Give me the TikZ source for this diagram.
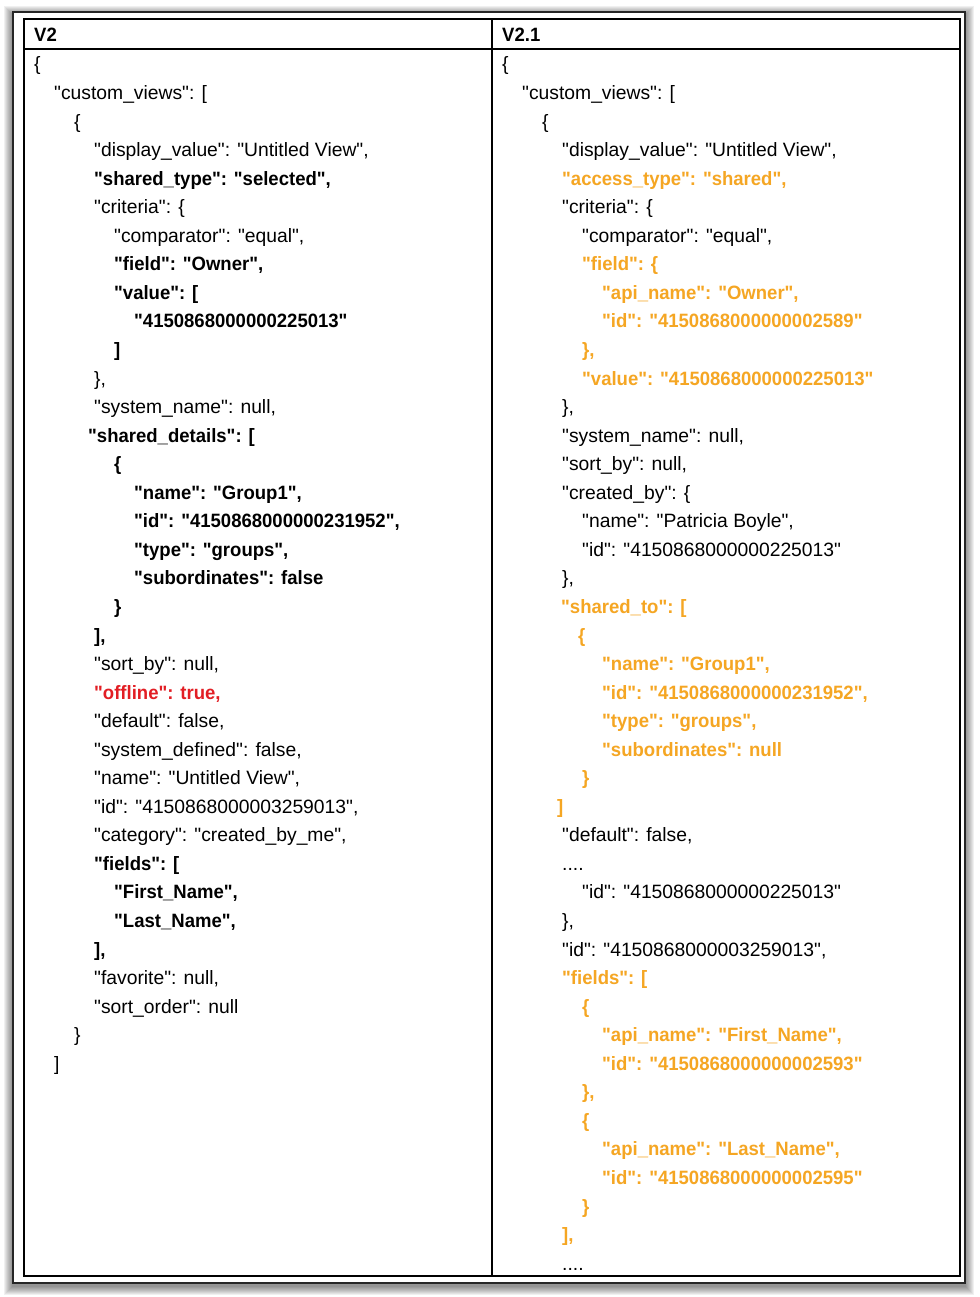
\documentclass[tikz,border=0pt]{standalone}
\usepackage{fontspec}
\setmainfont{Liberation Sans}[Ligatures=TeXOff,BoldFeatures={FakeStretch=0.96}]
\definecolor{addorange}{RGB}{245,166,35}
\definecolor{dropred}{RGB}{226,30,36}
\newcommand*{\codefont}{\fontsize{19.3}{23}\selectfont}
\tikzset{
    line/.style = {anchor=base west,inner sep=0,font=\codefont},
    keep/.style = {line},
    bold/.style = {line,font=\codefont\bfseries},
    added/.style = {bold,text=addorange},
    dropped/.style = {bold,text=dropred},
    frame/.style = {draw=black!85,line width=2.5},
    grid/.style = {draw=black,line width=1.3}
}

\begin{document}
\begin{tikzpicture}[x=1pt,y=-1pt]
        \newcommand*\lsep{28.55}
        \newcommand*\tab{20}
        \useasboundingbox (0,0) rectangle (979,1297);
        % Shadow and frame
        \foreach \s in {1,...,9}
            \fill[black,opacity=0.06] (13-\s,12-\s+3) rectangle (965+\s,1283+\s+3);
        \fill[white] (13,12) rectangle (965,1283);
        \draw[frame] (13,12) rectangle (965,1283);
        % Table
        \draw[grid] (24,19) rectangle (960,1276);
        \draw[grid] (24,49) -- (960,49);
        \draw[grid] (492,19) -- (492,1276);
        % Headers
        \node[bold] (v2) at (34,42) {V2};
        \node[bold] (v21) at (502,42) {V2.1};
        % V2
        \foreach \n/\lvl/\sty/\txt in {
            0/0/keep/{\{},
            1/1/keep/{"custom\_views": [},
            2/2/keep/{\{},
            3/3/keep/{"display\_value": "Untitled View",},
            4/3/bold/{"shared\_type": "selected",},
            5/3/keep/{"criteria": \{},
            6/4/keep/{"comparator": "equal",},
            7/4/bold/{"field": "Owner",},
            8/4/bold/{"value": [},
            9/5/bold/{"4150868000000225013"},
            10/4/bold/{]},
            11/3/keep/{\},},
            12/3/keep/{"system\_name": null,},
            13/2.7/bold/{"shared\_details": [},
            14/4/bold/{\{},
            15/5/bold/{"name": "Group1",},
            16/5/bold/{"id": "4150868000000231952",},
            17/5/bold/{"type": "groups",},
            18/5/bold/{"subordinates": false},
            19/4/bold/{\}},
            20/3/bold/{],},
            21/3/keep/{"sort\_by": null,},
            22/3/dropped/{"offline": true,},
            23/3/keep/{"default": false,},
            24/3/keep/{"system\_defined": false,},
            25/3/keep/{"name": "Untitled View",},
            26/3/keep/{"id": "4150868000003259013",},
            27/3/keep/{"category": "created\_by\_me",},
            28/3/bold/{"fields": [},
            29/4/bold/{"First\_Name",},
            30/4/bold/{"Last\_Name",},
            31/3/bold/{],},
            32/3/keep/{"favorite": null,},
            33/3/keep/{"sort\_order": null},
            34/2/keep/{\}},
            35/1/keep/{]}}
            \node[\sty] (l\n) at (34+\lvl*\tab,71+\n*\lsep) {\txt};
        % V2.1
        \foreach \n/\lvl/\sty/\txt in {
            0/0/keep/{\{},
            1/1/keep/{"custom\_views": [},
            2/2/keep/{\{},
            3/3/keep/{"display\_value": "Untitled View",},
            4/3/added/{"access\_type": "shared",},
            5/3/keep/{"criteria": \{},
            6/4/keep/{"comparator": "equal",},
            7/4/added/{"field": \{},
            8/5/added/{"api\_name": "Owner",},
            9/5/added/{"id": "4150868000000002589"},
            10/4/added/{\},},
            11/4/added/{"value": "4150868000000225013"},
            12/3/keep/{\},},
            13/3/keep/{"system\_name": null,},
            14/3/keep/{"sort\_by": null,},
            15/3/keep/{"created\_by": \{},
            16/4/keep/{"name": "Patricia Boyle",},
            17/4/keep/{"id": "4150868000000225013"},
            18/3/keep/{\},},
            19/2.95/added/{"shared\_to": [},
            20/3.8/added/{\{},
            21/5/added/{"name": "Group1",},
            22/5/added/{"id": "4150868000000231952",},
            23/5/added/{"type": "groups",},
            24/5/added/{"subordinates": null},
            25/4/added/{\}},
            26/2.75/added/{]},
            27/3/keep/{"default": false,},
            28/3/keep/{....},
            29/4/keep/{"id": "4150868000000225013"},
            30/3/keep/{\},},
            31/3/keep/{"id": "4150868000003259013",},
            32/3/added/{"fields": [},
            33/4/added/{\{},
            34/5/added/{"api\_name": "First\_Name",},
            35/5/added/{"id": "4150868000000002593"},
            36/4/added/{\},},
            37/4/added/{\{},
            38/5/added/{"api\_name": "Last\_Name",},
            39/5/added/{"id": "4150868000000002595"},
            40/4/added/{\}},
            41/3/added/{],},
            42/3/keep/{....}}
            \node[\sty] (r\n) at (502+\lvl*\tab,71+\n*\lsep) {\txt};
\end{tikzpicture}
\end{document}
